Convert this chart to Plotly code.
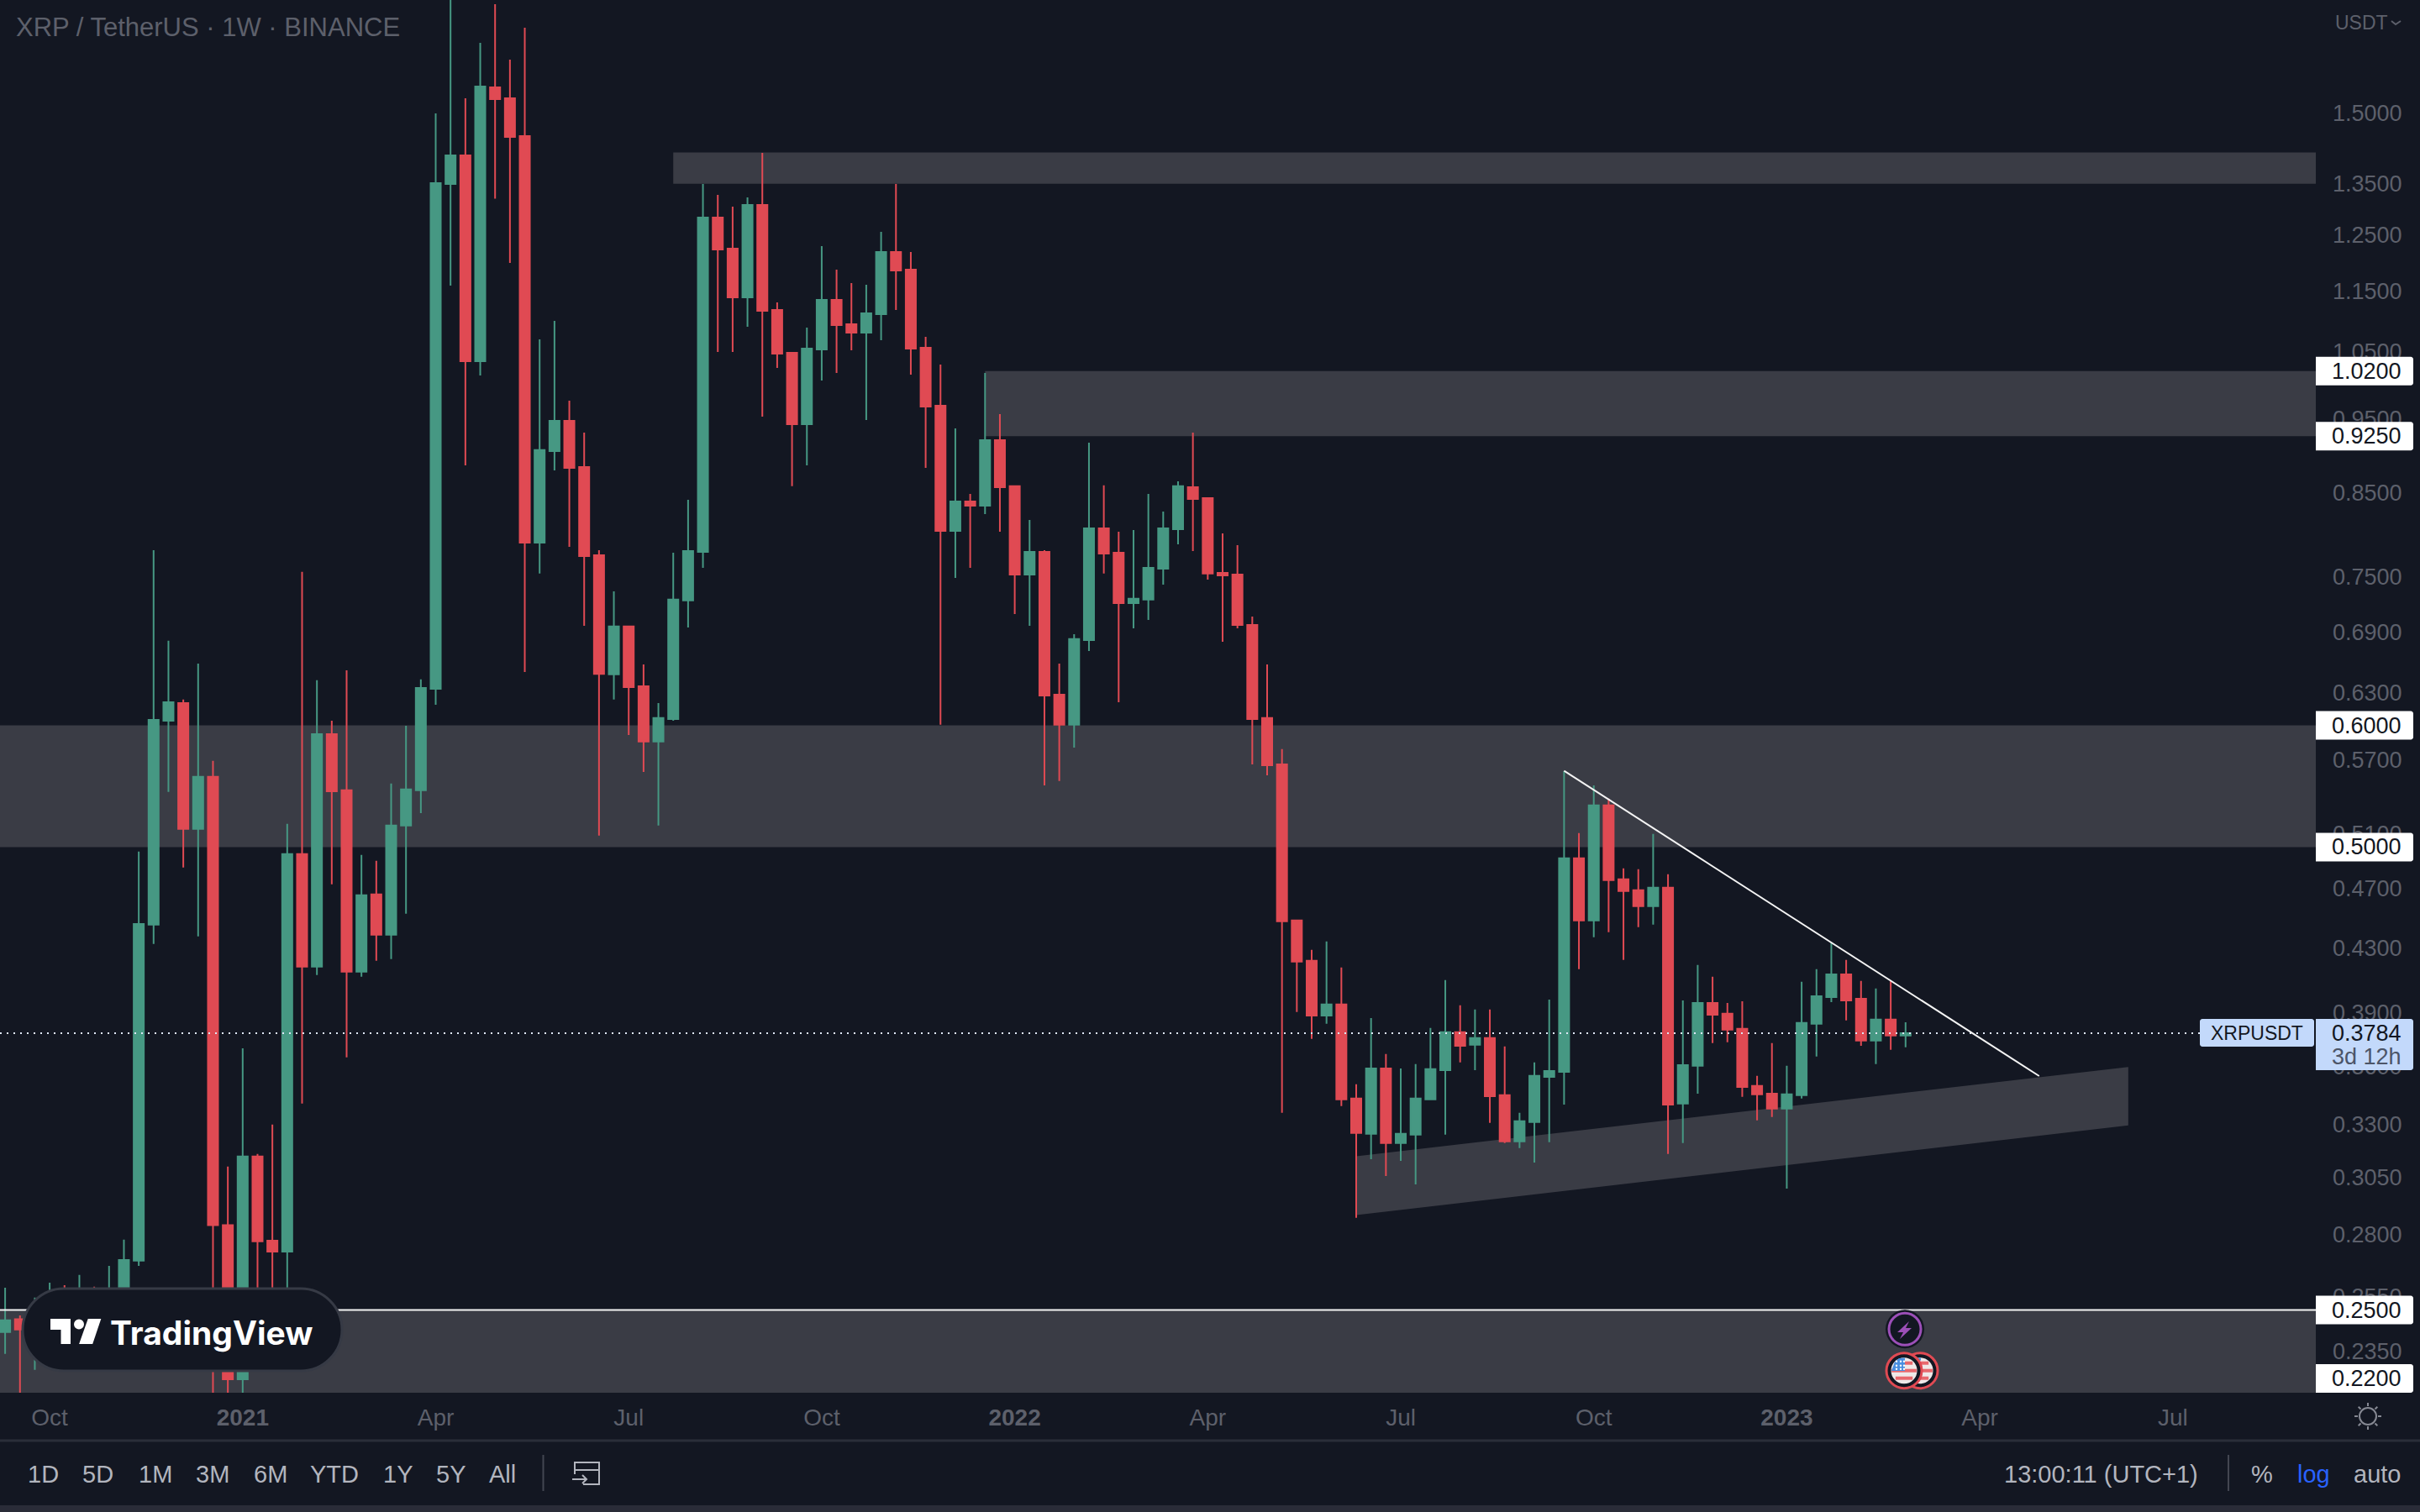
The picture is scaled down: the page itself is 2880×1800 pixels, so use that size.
import math
import pandas as pd
import plotly.graph_objects as go

W, H = 2880, 1800
PANE_R, PANE_B = 2756, 1658

BG = "#131722"
ZONE = "#3a3c45"
GREEN = "#469883"
RED = "#e04a53"
MUTED = "#5d606b"
LIGHT = "#b2b5be"
PALE = "#c3d9fb"
FONT = "Liberation Sans"

# weekly XRPUSDT candles, first week 2020-09-14
dates = pd.date_range("2020-09-14", periods=129, freq="7D")
opens = [.2419, .2466, .2422, .2437, .2515, .2474, .2547, .2493, .2576, .2692,
         .4452, .6042, .6204, .5138, .5555, .2839, .2254, .3146, .2774, .2729,
         .4948, .4181, .5922, .5444, .4149, .4659, .4385, .5165, .5444, .6338,
         1.3496, 1.4086, 1.0351, 1.5597, 1.5343, 1.4499, .7889, .9048, .9467, .8834,
         .7741, .6476, .6957, .6362, .5856, .6058, .7234, .7780, 1.2834, 1.2250,
         1.1389, 1.3078, 1.1176, 1.0482, .9420, 1.0535, 1.1346, 1.0940, 1.0803, 1.1106,
         1.2189, 1.1871, 1.0561, .9684, .8029, .8390, .8338, .9197, .8583, .7521,
         .7780, .6283, .6005, .6818, .8059, .7771, .7206, .7243, .7587, .8049,
         .8572, .8432, .7540, .7521, .6974, .6066, .5660, .4480, .4218, .3886,
         .3951, .3432, .3255, .3590, .3210, .3251, .3427, .3581, .3790, .3719,
         .3757, .3449, .3218, .3313, .3545, .3572, .4917, .4480, .5322, .4765,
         .4688, .4577, .4706, .3406, .3604, .3960, .3896, .3809, .3497, .3457,
         .3380, .3449, .3838, .3995, .4133, .3985, .3743, .3862, .3771]
highs = [.2585, .2480, .2547, .2605, .2595, .2635, .2589, .2671, .2778, .4967,
         .7800, .6810, .6236, .6582, .5689, .3099, .3700, .3158, .3300, .5178,
         .7550, .6419, .6042, .6516, .4942, .4899, .5499, .5997, .6427, 1.5000,
         1.79, 1.5343, 1.6671, 1.7665, 1.6258, 1.7053, 1.0695, 1.0995, .9757, .9302,
         .7800, .7334, .6965, .6574, .6204, .7771, .8411, 1.3496, 1.3278, 1.3045,
         1.3228, 1.4139, 1.1303, 1.0495, 1.0885, 1.2297, 1.1871, 1.1635, 1.1606, 1.2563,
         1.3496, 1.2189, 1.0736, 1.0299, .9360, .8485, 1.0171, .9563, .8583, .8161,
         .7800, .6582, .6878, .9162, .8594, .8019, .8039, .8485, .8264, .8648,
         .9302, .8432, .7999, .7859, .7062, .6574, .5790, .4480, .4287, .4342,
         .4175, .3506, .3871, .3668, .3590, .3613, .3814, .4097, .3946, .3921,
         .3921, .3710, .3359, .3622, .3980, .5603, .5106, .5485, .5376, .4844,
         .4838, .5100, .4801, .3975, .4191, .4118, .3960, .3970, .3550, .3729,
         .3604, .4087, .4165, .4336, .4223, .4092, .4046, .4092, .3847]
lows = [.2341, .2149, .2286, .2377, .2407, .2407, .2422, .2452, .2515, .2671,
        .4325, .5431, .4850, .4375, .2096, .2120, .2149, .2547, .2531, .2547,
        .3406, .4128, .4729, .3650, .4118, .4218, .4228, .4525, .5262, .6189,
        1.1591, .8857, 1.0132, 1.3202, 1.1992, .6500, .7531, .8790, .7839, .6965,
        .5087, .6236, .5915, .5596, .5165, .6042, .6948, .7597, 1.0495, 1.0495,
        1.0899, .9527, 1.0248, .8583, .8857, 1.0056, 1.0171, 1.0522, .9479, 1.0681,
        1.1176, 1.0145, .8823, .6005, .7483, .7597, .8233, .8019, .7089, .6965,
        .5485, .5520, .5804, .6707, .7531, .6212, .6939, .7027, .7408, .7869,
        .7790, .7464, .6801, .6939, .5660, .5568, .3359, .3906, .3752, .3838,
        .3393, .2870, .3134, .3056, .3126, .3018, .3427, .3251, .3622, .3581,
        .3309, .3210, .3186, .3118, .3214, .3401, .4165, .4369, .4402, .4223,
        .4435, .4452, .3158, .3210, .3457, .3729, .3733, .3440, .3321, .3338,
        .2999, .3432, .3654, .3965, .3857, .3714, .3613, .3691, .3705]
closes = [.2462, .2428, .2483, .2499, .2474, .2547, .2493, .2579, .2695, .4457,
          .6050, .6212, .5138, .5555, .2839, .2254, .3146, .2771, .2729, .4948,
          .4181, .5922, .5437, .4149, .4653, .4385, .5165, .5451, .6346, 1.3513,
          1.4086, 1.0351, 1.5616, 1.5324, 1.4481, .7889, .9060, .9467, .8823, .7732,
          .6480, .6957, .6354, .5856, .6066, .7243, .7790, 1.2834, 1.2235, 1.1389,
          1.3078, 1.1162, 1.0469, .9420, 1.0548, 1.1346, 1.0926, 1.0803, 1.1120, 1.2189,
          1.1856, 1.0548, .9672, .8029, .8390, .8338, .9197, .8572, .7521, .7780,
          .6275, .6005, .6827, .8059, .7761, .7206, .7252, .7597, .8059, .8583,
          .8422, .7531, .7511, .6974, .6058, .5653, .4474, .4213, .3886, .3951,
          .3427, .3259, .3590, .3210, .3255, .3432, .3586, .3790, .3714, .3757,
          .3444, .3218, .3317, .3550, .3576, .4917, .4480, .5322, .4759, .4682,
          .4577, .4706, .3401, .3608, .3960, .3891, .3804, .3492, .3453, .3380,
          .3453, .3843, .4000, .4133, .3975, .3743, .3862, .3771, .3784]

last_price = 0.3784

# axes
x_start, x_end = "2020-09-11 14:00", "2023-09-08 10:00"
y_top, y_bottom = 1.7776, 0.2209
tick_prices = [1.5, 1.35, 1.25, 1.15, 1.05, .95, .85, .75, .69, .63, .57, .51,
               .47, .43, .39, .36, .33, .305, .28, .255, .235]
tick_dates = ["2020-10-05", "2021-01-04", "2021-04-05", "2021-07-05", "2021-10-04", "2022-01-03",
              "2022-04-04", "2022-07-04", "2022-10-03", "2023-01-02", "2023-04-03", "2023-07-03"]
tick_names = ["Oct", "<b>2021</b>", "Apr", "Jul", "Oct", "<b>2022</b>",
              "Apr", "Jul", "Oct", "<b>2023</b>", "Apr", "Jul"]

# drawn levels
zone_starts = ["2021-07-26", "2021-12-20", x_start, x_start]
zone_tops = [1.415, 1.02, .60, .25]
zone_bottoms = [1.35, .925, .50, .22]
level_labels = [1.02, .925, .60, .50, .25]

channel_dates = ["2022-06-13", "2023-06-12"]
channel_upper = [.3147, .3598]
channel_lower = [.2882, .3296]

trend_dates = ["2022-09-19", "2023-05-01"]
trend_prices = [.5605, .3549]

toolbar_names = ["1D", "5D", "1M", "3M", "6M", "YTD", "1Y", "5Y", "All"]
toolbar_x = [51, 116, 185, 253, 322, 398, 473, 536, 598]


def X(px):
    return px / W


def Y(py):
    return 1 - py / H


def price_py(price):
    span = math.log(y_top) - math.log(y_bottom)
    return PANE_B * (math.log(y_top) - math.log(price)) / span


def box_path(x0, y0, x1, y1, r, left=True):
    k = 0.45 * r
    rl = r if left else 0
    kl = k if left else 0
    return (f"M {X(x0 + rl)},{Y(y0)} L {X(x1 - r)},{Y(y0)} "
            f"C {X(x1 - k)},{Y(y0)} {X(x1)},{Y(y0 + k)} {X(x1)},{Y(y0 + r)} "
            f"L {X(x1)},{Y(y1 - r)} C {X(x1)},{Y(y1 - k)} {X(x1 - k)},{Y(y1)} {X(x1 - r)},{Y(y1)} "
            f"L {X(x0 + rl)},{Y(y1)} C {X(x0 + kl)},{Y(y1)} {X(x0)},{Y(y1 - kl)} {X(x0)},{Y(y1 - rl)} "
            f"L {X(x0)},{Y(y0 + rl)} C {X(x0)},{Y(y0 + kl)} {X(x0 + kl)},{Y(y0)} {X(x0 + rl)},{Y(y0)} Z")


def poly_path(points, close=True):
    s = "M " + " L ".join(f"{X(a)},{Y(b)}" for a, b in points)
    return s + (" Z" if close else "")


def paper_path(path, fill=None, color=None, width=0):
    d = dict(type="path", xref="paper", yref="paper", path=path, layer="above",
             line=dict(color=color or "rgba(0,0,0,0)", width=width))
    if fill:
        d["fillcolor"] = fill
    return d


def circle(cx, cy, r, fill, color=None, width=0):
    return dict(type="circle", xref="paper", yref="paper", layer="above",
                x0=X(cx - r), x1=X(cx + r), y0=Y(cy + r), y1=Y(cy - r), fillcolor=fill,
                line=dict(color=color or "rgba(0,0,0,0)", width=width))


def text(px, py, s, size=29, color=LIGHT, anchor="center", family=FONT):
    return dict(x=X(px), y=Y(py), xref="paper", yref="paper", text=s, showarrow=False,
                xanchor=anchor, yanchor="middle", font=dict(family=family, size=size, color=color))


fig = go.Figure()
fig.add_trace(go.Candlestick(
    x=dates, open=opens, high=highs, low=lows, close=closes,
    increasing=dict(line=dict(color=GREEN, width=2), fillcolor=GREEN),
    decreasing=dict(line=dict(color=RED, width=2), fillcolor=RED),
    whiskerwidth=0, hoverinfo="skip", showlegend=False,
))

shapes = []
annotations = []

for start, top, bottom in zip(zone_starts, zone_tops, zone_bottoms):
    shapes.append(dict(type="rect", xref="x", yref="y", x0=start, x1=x_end, y0=bottom, y1=top,
                       fillcolor=ZONE, line_width=0, layer="below"))

channel = (f"M {channel_dates[0]},{channel_upper[0]} L {channel_dates[1]},{channel_upper[1]} "
           f"L {channel_dates[1]},{channel_lower[1]} L {channel_dates[0]},{channel_lower[0]} Z")
shapes.append(dict(type="path", xref="x", yref="y", path=channel, fillcolor=ZONE, line_width=0, layer="below"))

# last price line, level line, trend line
shapes.append(dict(type="line", xref="paper", yref="y", x0=0, x1=X(2618), y0=last_price, y1=last_price,
                   line=dict(color="#dfe8f7", width=2, dash="2px,6px"), layer="above"))
shapes.append(dict(type="line", xref="paper", yref="y", x0=0, x1=X(PANE_R), y0=.25, y1=.25,
                   line=dict(color="#f4f4f4", width=2), layer="above"))
shapes.append(dict(type="line", xref="x", yref="y", x0=trend_dates[0], x1=trend_dates[1],
                   y0=trend_prices[0], y1=trend_prices[1], line=dict(color="#f4f4f4", width=2), layer="above"))

# price scale labels
for price in level_labels:
    py = price_py(price)
    shapes.append(paper_path(box_path(PANE_R, py - 17, 2872, py + 17, 3, left=False), fill="white"))
    annotations.append(text(2860, py, f"{price:.4f}", size=27, color="#131722", anchor="right"))
# 0.2200 sits below the pane edge so its label is held inside
shapes.append(paper_path(box_path(PANE_R, 1624, 2872, 1658, 3, left=False), fill="white"))
annotations.append(text(2860, 1641, "0.2200", size=27, color="#131722", anchor="right"))

shapes.append(paper_path(box_path(2618, 1213, 2754, 1246, 3), fill=PALE))
annotations.append(text(2686, 1230, "XRPUSDT", size=23, color="#131722"))
shapes.append(paper_path(box_path(PANE_R, 1213, 2872, 1274, 3, left=False), fill=PALE))
annotations.append(text(2860, 1230, f"{last_price:.4f}", size=27, color="#131722", anchor="right"))
annotations.append(text(2860, 1258, "3d 12h", size=27, color="#4c5568", anchor="right"))

# chart title and currency
annotations.append(text(17, 32, "XRP / TetherUS · 1W · BINANCE", size=31, color=MUTED, anchor="left"))
annotations.append(text(2777, 27, "USDT", size=23, color=MUTED, anchor="left"))
shapes.append(paper_path(poly_path([(2846, 25), (2851, 29), (2857, 25)], close=False), color=MUTED, width=2))

# logo
shapes.append(paper_path(box_path(27, 1534, 407, 1632, 49), fill=BG, color="#363a45", width=3))
shapes.append(paper_path(poly_path([(60, 1570), (84, 1570), (84, 1600), (72.5, 1600), (72.5, 1583), (60, 1583)]), fill="white"))
shapes.append(circle(94, 1576.5, 6, "white"))
shapes.append(paper_path(poly_path([(104.7, 1570), (120.3, 1570), (110.2, 1600), (94.1, 1600)]), fill="white"))
annotations.append(text(129, 1586, "<b>TradingView</b>", size=39, color="white", anchor="left", family="Inter"))

# event markers
shapes.append(circle(2267, 1582.3, 23, BG))
shapes.append(circle(2267, 1582.3, 19, BG, color="#9c4fb8", width=3))
shapes.append(paper_path(poly_path([(2272, 1573), (2258, 1586), (2265, 1586), (2261, 1594), (2275, 1581), (2268, 1581)]), fill="#9c4fb8"))
for cx in [2285, 2266]:
    shapes.append(circle(cx, 1631.7, 21, BG, color=RED, width=3))
    shapes.append(circle(cx, 1631.7, 15.5, "#efe9e9"))
    for dy in [-9, 0, 9]:
        half = math.sqrt(max(15 ** 2 - (abs(dy) + 2) ** 2, 0))
        shapes.append(paper_path(poly_path([(cx - half, 1631.7 + dy - 2), (cx + half, 1631.7 + dy - 2),
                                            (cx + half, 1631.7 + dy + 2), (cx - half, 1631.7 + dy + 2)]),
                                 fill="#e8686d"))
    shapes.append(paper_path(poly_path([(cx - 11, 1621), (cx - 6, 1617), (cx + 1, 1616.5), (cx + 1, 1632), (cx - 15, 1632)]), fill="#4a8fe0"))
    for sx in [-9, -4, 0]:
        for sy in [-11, -6, -2]:
            shapes.append(circle(cx + sx, 1631.7 + sy, 1.2, "white"))

# bottom bar
shapes.append(dict(type="line", xref="paper", yref="paper", x0=0, x1=1, y0=Y(1715), y1=Y(1715),
                   line=dict(color="#2a2e39", width=3), layer="above"))
shapes.append(dict(type="rect", xref="paper", yref="paper", x0=0, x1=1, y0=0, y1=Y(1792),
                   fillcolor="#2a2c38", line_width=0, layer="above"))
for name, px in zip(toolbar_names, toolbar_x):
    annotations.append(text(px, 1755, name))
for px in [646.5, 2652]:
    shapes.append(dict(type="line", xref="paper", yref="paper", x0=X(px), x1=X(px), y0=Y(1732), y1=Y(1775),
                       line=dict(color="#434651", width=2), layer="above"))
shapes.append(paper_path(poly_path([(684, 1755), (684, 1741), (713, 1741), (713, 1767), (694, 1767)], close=False), color=LIGHT, width=2))
shapes.append(paper_path(poly_path([(684, 1750), (713, 1750)], close=False), color=LIGHT, width=2))
shapes.append(paper_path(poly_path([(681, 1761), (698, 1761)], close=False), color=LIGHT, width=2))
shapes.append(paper_path(poly_path([(693, 1756), (698, 1761), (693, 1766)], close=False), color=LIGHT, width=2))
annotations.append(text(2500, 1755, "13:00:11 (UTC+1)"))
annotations.append(text(2692, 1755, "%"))
annotations.append(text(2753, 1755, "log", color="#2962ff"))
annotations.append(text(2829, 1755, "auto"))

# sun button
shapes.append(circle(2818, 1686, 10, "rgba(0,0,0,0)", color="#868993", width=2))
for a in range(8):
    ang = a * math.pi / 4
    shapes.append(paper_path(poly_path([(2818 + 12 * math.cos(ang), 1686 + 12 * math.sin(ang)),
                                        (2818 + 16 * math.cos(ang), 1686 + 16 * math.sin(ang))], close=False),
                             color="#868993", width=2))

fig.update_layout(
    width=W, height=H,
    margin=dict(l=0, r=0, t=0, b=0),
    paper_bgcolor=BG, plot_bgcolor=BG,
    showlegend=False, boxgap=0.2, boxgroupgap=0.15,
    shapes=shapes, annotations=annotations,
    xaxis=dict(
        domain=[0, PANE_R / W], type="date", range=[x_start, x_end],
        rangeslider=dict(visible=False), showgrid=False, zeroline=False, showline=False,
        tickmode="array", tickvals=tick_dates, ticktext=tick_names,
        ticks="", ticklabelstandoff=10, tickangle=0,
        tickfont=dict(family=FONT, size=28, color=MUTED),
    ),
    yaxis=dict(
        domain=[1 - PANE_B / H, 1], type="log",
        range=[math.log10(y_bottom), math.log10(y_top)],
        side="right", showgrid=False, zeroline=False, showline=False,
        tickmode="array", tickvals=tick_prices, ticktext=[f"{p:.4f}" for p in tick_prices],
        ticks="", ticklabelstandoff=19,
        tickfont=dict(family=FONT, size=27, color=MUTED),
    ),
)

fig.write_html("out.html", config={"displayModeBar": False}, post_script="document.body.style.margin='0';")
